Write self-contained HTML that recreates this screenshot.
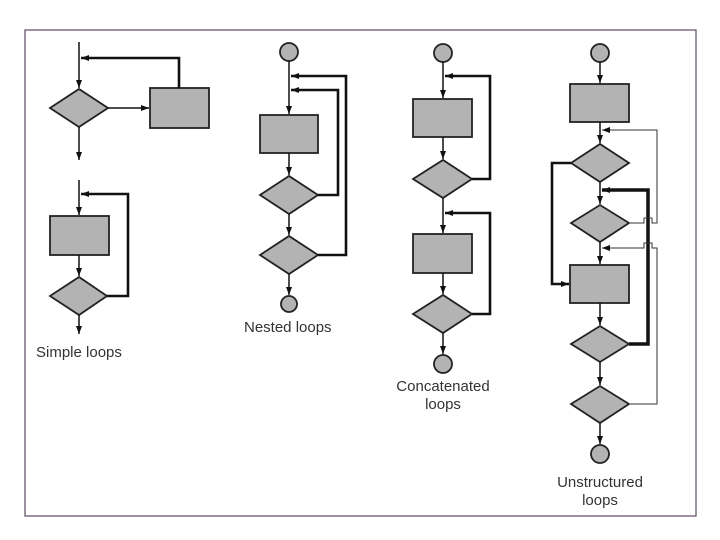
<!DOCTYPE html>
<html><head><meta charset="utf-8"><style>
html,body{margin:0;padding:0;background:#fff;width:720px;height:540px;overflow:hidden}
text{font-family:"Liberation Sans",sans-serif;font-size:15px;fill:#333}
</style></head><body>
<svg width="720" height="540" viewBox="0 0 720 540" xmlns="http://www.w3.org/2000/svg">
<defs>
<marker id="a" markerWidth="8" markerHeight="6" refX="8" refY="3" orient="auto" markerUnits="userSpaceOnUse">
<path d="M0,0 L8,3 L0,6 z" fill="#111"/></marker>
</defs>
<rect x="25" y="30" width="671" height="486" fill="none" stroke="#5a4a66" stroke-width="1.2"/>
<g fill="#b3b3b3" stroke="#222" stroke-width="1.8">
<polygon points="50,108 79,89 108,108 79,127"/>
<rect x="150" y="88" width="59" height="40"/>
<rect x="50" y="216" width="59" height="39"/>
<polygon points="50,296 79,277 107,296 79,315"/>
<circle cx="289" cy="52" r="9"/>
<rect x="260" y="115" width="58" height="38"/>
<polygon points="260,195 289,176 318,195 289,214"/>
<polygon points="260,255 289,236 318,255 289,274"/>
<circle cx="289" cy="304" r="8"/>
<circle cx="443" cy="53" r="9"/>
<rect x="413" y="99" width="59" height="38"/>
<polygon points="413,179 443,160 472,179 443,198"/>
<rect x="413" y="234" width="59" height="39"/>
<polygon points="413,314 443,295 472,314 443,333"/>
<circle cx="443" cy="364" r="9"/>
<circle cx="600" cy="53" r="9"/>
<rect x="570" y="84" width="59" height="38"/>
<polygon points="571,163 600,144 629,163 600,182"/>
<polygon points="571,223 600,205 629,223 600,242"/>
<rect x="570" y="265" width="59" height="38"/>
<polygon points="571,344 600,326 629,344 600,362"/>
<polygon points="571,404 600,386 629,404 600,423"/>
<circle cx="600" cy="454" r="9"/>
</g>
<g fill="none" stroke="#111" stroke-width="1.5">
<line x1="79" y1="42" x2="79" y2="88" marker-end="url(#a)"/>
<line x1="108" y1="108" x2="149" y2="108" marker-end="url(#a)"/>
<line x1="79" y1="127" x2="79" y2="160" marker-end="url(#a)"/>
<line x1="79" y1="180" x2="79" y2="215" marker-end="url(#a)"/>
<line x1="79" y1="255" x2="79" y2="276" marker-end="url(#a)"/>
<line x1="79" y1="315" x2="79" y2="334" marker-end="url(#a)"/>
<line x1="289" y1="61" x2="289" y2="114" marker-end="url(#a)"/>
<line x1="289" y1="153" x2="289" y2="175" marker-end="url(#a)"/>
<line x1="289" y1="214" x2="289" y2="235" marker-end="url(#a)"/>
<line x1="289" y1="274" x2="289" y2="295" marker-end="url(#a)"/>
<line x1="443" y1="62" x2="443" y2="98" marker-end="url(#a)"/>
<line x1="443" y1="137" x2="443" y2="159" marker-end="url(#a)"/>
<line x1="443" y1="198" x2="443" y2="233" marker-end="url(#a)"/>
<line x1="443" y1="273" x2="443" y2="294" marker-end="url(#a)"/>
<line x1="443" y1="333" x2="443" y2="354" marker-end="url(#a)"/>
<line x1="600" y1="62" x2="600" y2="83" marker-end="url(#a)"/>
<line x1="600" y1="122" x2="600" y2="143" marker-end="url(#a)"/>
<line x1="600" y1="182" x2="600" y2="204" marker-end="url(#a)"/>
<line x1="600" y1="242" x2="600" y2="264" marker-end="url(#a)"/>
<line x1="600" y1="303" x2="600" y2="325" marker-end="url(#a)"/>
<line x1="600" y1="362" x2="600" y2="385" marker-end="url(#a)"/>
<line x1="600" y1="423" x2="600" y2="444" marker-end="url(#a)"/>
</g>
<g fill="none" stroke="#111" stroke-width="2.6">
<polyline points="179,88 179,58 81,58" marker-end="url(#a)"/>
<polyline points="107,296 128,296 128,194 81,194" marker-end="url(#a)"/>
<polyline points="318,195 338,195 338,90 291,90" marker-end="url(#a)"/>
<polyline points="318,255 346,255 346,76 291,76" marker-end="url(#a)"/>
<polyline points="472,179 490,179 490,76 445,76" marker-end="url(#a)"/>
<polyline points="472,314 490,314 490,213 445,213" marker-end="url(#a)"/>
<polyline points="571,163 552,163 552,284 569,284" marker-end="url(#a)"/>
</g>
<polyline points="629,344 648,344 648,190 602,190" fill="none" stroke="#111" stroke-width="3.5" marker-end="url(#a)"/>
<g fill="none" stroke="#333" stroke-width="1">
<polyline points="629,223 644,223 644,218 652,218 652,223 657,223 657,130 602,130" marker-end="url(#a)"/>
<polyline points="629,404 657,404 657,248 652,248 652,243 644,243 644,248 602,248" marker-end="url(#a)"/>
</g>
<text x="36" y="357">Simple loops</text>
<text x="244" y="332">Nested loops</text>
<text x="443" y="391" text-anchor="middle">Concatenated</text>
<text x="443" y="409" text-anchor="middle">loops</text>
<text x="600" y="487" text-anchor="middle">Unstructured</text>
<text x="600" y="505" text-anchor="middle">loops</text>
</svg>
</body></html>
